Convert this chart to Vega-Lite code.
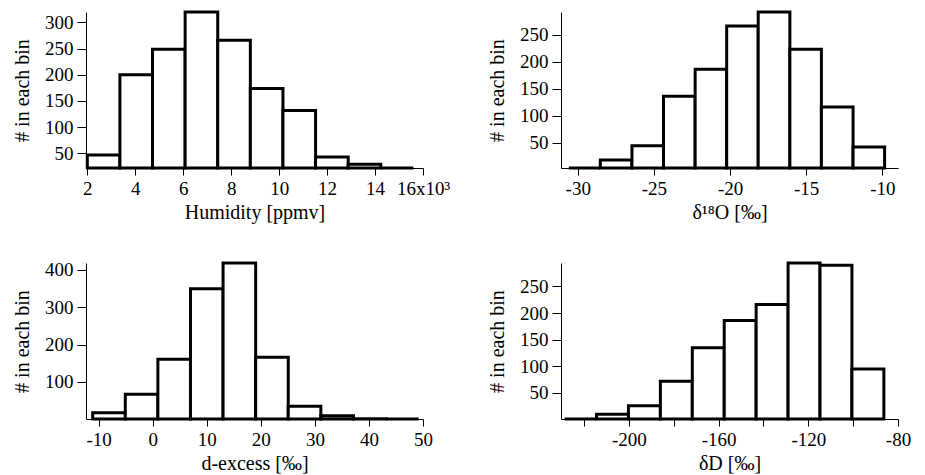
{
  "$schema": "https://vega.github.io/schema/vega-lite/v6.json",
  "background": "white",
  "padding": {"left": 12, "top": 10, "right": 5, "bottom": 5},
  "bounds": "flush",
  "columns": 2,
  "spacing": {"row": 95, "column": 138},
  "datasets": {
    "hum": [
      {"start": 2000, "end": 3360, "count": 47},
      {"start": 3360, "end": 4720, "count": 200},
      {"start": 4720, "end": 6080, "count": 249},
      {"start": 6080, "end": 7440, "count": 320},
      {"start": 7440, "end": 8800, "count": 266},
      {"start": 8800, "end": 10160, "count": 174},
      {"start": 10160, "end": 11520, "count": 132},
      {"start": 11520, "end": 12880, "count": 43},
      {"start": 12880, "end": 14240, "count": 29},
      {"start": 14240, "end": 15600, "count": 22}
    ],
    "d18o": [
      {"start": -30.59, "end": -28.52, "count": 3},
      {"start": -28.52, "end": -26.44, "count": 18},
      {"start": -26.44, "end": -24.37, "count": 44},
      {"start": -24.37, "end": -22.29, "count": 136},
      {"start": -22.29, "end": -20.22, "count": 186},
      {"start": -20.22, "end": -18.15, "count": 266},
      {"start": -18.15, "end": -16.07, "count": 292},
      {"start": -16.07, "end": -14.0, "count": 223},
      {"start": -14.0, "end": -11.92, "count": 116},
      {"start": -11.92, "end": -9.85, "count": 42}
    ],
    "dex": [
      {"start": -11.11, "end": -5.08, "count": 18},
      {"start": -5.08, "end": 0.95, "count": 67},
      {"start": 0.95, "end": 6.98, "count": 161},
      {"start": 6.98, "end": 13.01, "count": 349},
      {"start": 13.01, "end": 19.04, "count": 418},
      {"start": 19.04, "end": 25.07, "count": 166},
      {"start": 25.07, "end": 31.1, "count": 35},
      {"start": 31.1, "end": 37.13, "count": 10},
      {"start": 37.13, "end": 43.16, "count": 2},
      {"start": 43.16, "end": 49.19, "count": 1}
    ],
    "dd": [
      {"start": -228.7, "end": -214.46, "count": 1},
      {"start": -214.46, "end": -200.22, "count": 10},
      {"start": -200.22, "end": -185.98, "count": 26},
      {"start": -185.98, "end": -171.74, "count": 72},
      {"start": -171.74, "end": -157.5, "count": 135},
      {"start": -157.5, "end": -143.26, "count": 186},
      {"start": -143.26, "end": -129.02, "count": 216},
      {"start": -129.02, "end": -114.78, "count": 294},
      {"start": -114.78, "end": -100.54, "count": 290},
      {"start": -100.54, "end": -86.3, "count": 95}
    ]
  },
  "concat": [
    {
      "width": 337, "height": 156,
      "data": {"name": "hum"},
      "mark": {"type": "rect", "fill": "white", "stroke": "black", "strokeWidth": 3, "strokeJoin": "miter"},
      "encoding": {
        "x": {"field": "start", "type": "quantitative", "scale": {"domain": [1946, 16000], "nice": false, "zero": false},
              "axis": {"title": "Humidity [ppmv]", "values": [2000, 4000, 6000, 8000, 10000, 12000, 14000, 16000],
                       "labelExpr": "datum.value == 16000 ? '16x10³' : '' + (datum.value / 1000)"}},
        "x2": {"field": "end"},
        "y": {"field": "count", "type": "quantitative", "scale": {"domain": [22, 320], "nice": false, "zero": false},
              "axis": {"title": "# in each bin", "values": [50, 100, 150, 200, 250, 300]}},
        "y2": {"datum": 22}
      }
    },
    {
      "width": 337, "height": 156,
      "data": {"name": "d18o"},
      "mark": {"type": "rect", "fill": "white", "stroke": "black", "strokeWidth": 3, "strokeJoin": "miter"},
      "encoding": {
        "x": {"field": "start", "type": "quantitative", "scale": {"domain": [-31.1, -8.97], "nice": false, "zero": false},
              "axis": {"title": "δ¹⁸O [‰]", "values": [-30, -25, -20, -15, -10], "labelExpr": "'' + datum.value"}},
        "x2": {"field": "end"},
        "y": {"field": "count", "type": "quantitative", "scale": {"domain": [3, 292], "nice": false, "zero": false},
              "axis": {"title": "# in each bin", "values": [50, 100, 150, 200, 250]}},
        "y2": {"datum": 3}
      }
    },
    {
      "width": 337, "height": 156,
      "data": {"name": "dex"},
      "mark": {"type": "rect", "fill": "white", "stroke": "black", "strokeWidth": 3, "strokeJoin": "miter"},
      "encoding": {
        "x": {"field": "start", "type": "quantitative", "scale": {"domain": [-12.35, 50], "nice": false, "zero": false},
              "axis": {"title": "d-excess [‰]", "values": [-10, 0, 10, 20, 30, 40, 50], "labelExpr": "'' + datum.value"}},
        "x2": {"field": "end"},
        "y": {"field": "count", "type": "quantitative", "scale": {"domain": [1, 418], "nice": false, "zero": false},
              "axis": {"title": "# in each bin", "values": [100, 200, 300, 400]}},
        "y2": {"datum": 1}
      }
    },
    {
      "width": 337, "height": 156,
      "data": {"name": "dd"},
      "mark": {"type": "rect", "fill": "white", "stroke": "black", "strokeWidth": 3, "strokeJoin": "miter"},
      "encoding": {
        "x": {"field": "start", "type": "quantitative", "scale": {"domain": [-230.3, -80], "nice": false, "zero": false},
              "axis": {"title": "δD [‰]", "values": [-220, -200, -180, -160, -140, -120, -100, -80],
                       "labelExpr": "datum.value % 40 == 0 ? '' + datum.value : ''"}},
        "x2": {"field": "end"},
        "y": {"field": "count", "type": "quantitative", "scale": {"domain": [1, 294], "nice": false, "zero": false},
              "axis": {"title": "# in each bin", "values": [50, 100, 150, 200, 250]}},
        "y2": {"datum": 1}
      }
    }
  ],
  "config": {
    "font": "Liberation Serif",
    "view": {"stroke": null},
    "axis": {
      "grid": false,
      "domainColor": "black",
      "domainWidth": 1,
      "tickColor": "black",
      "tickWidth": 1,
      "tickSize": 7,
      "labelColor": "black",
      "titleColor": "black",
      "labelFont": "Liberation Serif",
      "titleFont": "Liberation Serif",
      "labelFontSize": 19,
      "titleFontSize": 20,
      "titleFontWeight": "normal",
      "labelPadding": 4,
      "titlePadding": 4,
      "labelOverlap": false,
      "labelFlush": false
    },
    "axisY": {"labelPadding": 4, "titlePadding": 12, "tickSize": 9}
  }
}
